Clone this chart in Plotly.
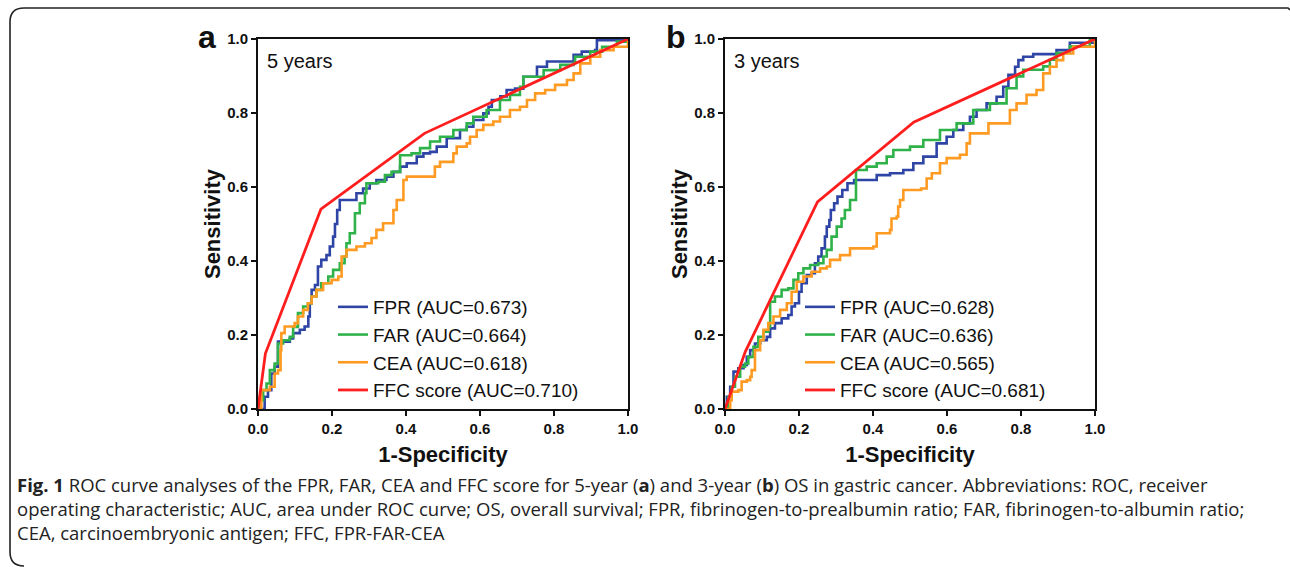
import plotly.graph_objects as go
from plotly.subplots import make_subplots

W, H = 1290, 567

# ---------------- data ----------------
PANEL_LABELS = ["a", "b"]
PANEL_TITLES = ["5 years", "3 years"]
SERIES_NAMES = ["FPR", "FAR", "CEA", "FFC score"]
AUC_A = [0.673, 0.664, 0.618, 0.710]
AUC_B = [0.628, 0.636, 0.565, 0.681]
TICKS = [0.0, 0.2, 0.4, 0.6, 0.8, 1.0]

# Panel a (5 years) -- (1-specificity, sensitivity)
FPR_A = [(0, 0), (0.009, 0), (0.018, 0.033), (0.027, 0.051), (0.036, 0.096), (0.045, 0.114),
         (0.054, 0.182), (0.086, 0.191), (0.095, 0.205), (0.113, 0.214), (0.126, 0.223),
         (0.136, 0.25), (0.14, 0.286), (0.145, 0.322), (0.154, 0.335), (0.162, 0.385),
         (0.171, 0.403), (0.185, 0.416), (0.194, 0.439), (0.203, 0.466), (0.208, 0.5),
         (0.214, 0.538), (0.221, 0.565), (0.257, 0.565), (0.266, 0.583), (0.284, 0.596),
         (0.302, 0.61), (0.32, 0.619), (0.347, 0.628), (0.366, 0.641), (0.384, 0.655),
         (0.402, 0.664), (0.429, 0.682), (0.447, 0.691), (0.465, 0.695), (0.483, 0.709),
         (0.51, 0.732), (0.546, 0.754), (0.564, 0.763), (0.582, 0.781), (0.609, 0.799),
         (0.623, 0.817), (0.632, 0.835), (0.655, 0.845), (0.672, 0.862), (0.695, 0.866),
         (0.717, 0.898), (0.754, 0.925), (0.781, 0.939), (0.853, 0.957), (0.875, 0.966),
         (0.911, 0.97), (0.916, 0.997), (0.988, 0.997), (1.0, 1.0)]
FAR_A = [(0, 0), (0.005, 0.024), (0.014, 0.051), (0.023, 0.069), (0.032, 0.105), (0.045, 0.123),
         (0.054, 0.177), (0.068, 0.186), (0.086, 0.195), (0.095, 0.222), (0.108, 0.259),
         (0.122, 0.277), (0.135, 0.286), (0.145, 0.304), (0.158, 0.322), (0.171, 0.34),
         (0.19, 0.358), (0.203, 0.376), (0.221, 0.394), (0.234, 0.412), (0.239, 0.448),
         (0.248, 0.475), (0.262, 0.529), (0.275, 0.556), (0.289, 0.583), (0.293, 0.61),
         (0.325, 0.614), (0.343, 0.632), (0.361, 0.641), (0.384, 0.686), (0.415, 0.691),
         (0.438, 0.705), (0.465, 0.723), (0.492, 0.736), (0.528, 0.754), (0.564, 0.772),
         (0.582, 0.79), (0.618, 0.808), (0.654, 0.835), (0.681, 0.849), (0.708, 0.871),
         (0.717, 0.898), (0.772, 0.916), (0.817, 0.93), (0.853, 0.935), (0.857, 0.952),
         (0.898, 0.966), (0.93, 0.979), (0.97, 0.993), (1.0, 1.0)]
CEA_A = [(0, 0), (0.009, 0.051), (0.032, 0.06), (0.045, 0.096), (0.054, 0.105), (0.061, 0.159),
         (0.063, 0.205), (0.072, 0.223), (0.099, 0.232), (0.108, 0.25), (0.122, 0.268),
         (0.135, 0.286), (0.145, 0.304), (0.158, 0.322), (0.176, 0.34), (0.199, 0.349),
         (0.217, 0.358), (0.226, 0.412), (0.239, 0.43), (0.266, 0.439), (0.289, 0.448),
         (0.307, 0.462), (0.32, 0.484), (0.338, 0.502), (0.366, 0.538), (0.375, 0.565),
         (0.393, 0.619), (0.402, 0.628), (0.465, 0.628), (0.478, 0.655), (0.492, 0.668),
         (0.528, 0.691), (0.537, 0.709), (0.564, 0.718), (0.573, 0.736), (0.591, 0.754),
         (0.609, 0.768), (0.636, 0.777), (0.654, 0.79), (0.681, 0.808), (0.708, 0.817),
         (0.727, 0.835), (0.749, 0.853), (0.776, 0.862), (0.803, 0.876), (0.835, 0.889),
         (0.853, 0.907), (0.871, 0.934), (0.898, 0.952), (0.925, 0.97), (0.961, 0.979),
         (1.0, 1.0)]
FFC_A = [(0, 0), (0.02, 0.15), (0.17, 0.54), (0.45, 0.745), (1.0, 1.0)]

# Panel b (3 years)
FPR_B = [(0, 0), (0.005, 0.033), (0.014, 0.06), (0.023, 0.101), (0.036, 0.11), (0.05, 0.119),
         (0.059, 0.141), (0.068, 0.159), (0.081, 0.177), (0.095, 0.186), (0.113, 0.195),
         (0.122, 0.218), (0.135, 0.232), (0.153, 0.245), (0.171, 0.254), (0.18, 0.277),
         (0.189, 0.286), (0.2, 0.317), (0.207, 0.34), (0.221, 0.362), (0.234, 0.367),
         (0.243, 0.394), (0.252, 0.412), (0.261, 0.434), (0.27, 0.466), (0.275, 0.493),
         (0.282, 0.511), (0.286, 0.538), (0.295, 0.556), (0.304, 0.574), (0.317, 0.592),
         (0.331, 0.61), (0.349, 0.619), (0.41, 0.632), (0.446, 0.637), (0.482, 0.646),
         (0.509, 0.664), (0.536, 0.682), (0.572, 0.718), (0.599, 0.736), (0.617, 0.754),
         (0.644, 0.772), (0.662, 0.79), (0.68, 0.808), (0.707, 0.826), (0.734, 0.844),
         (0.752, 0.871), (0.766, 0.903), (0.784, 0.925), (0.793, 0.943), (0.806, 0.952),
         (0.833, 0.959), (0.887, 0.959), (0.896, 0.97), (0.928, 0.97), (0.932, 0.99),
         (0.986, 0.99), (1.0, 1.0)]
FAR_B = [(0, 0), (0.009, 0.033), (0.018, 0.06), (0.027, 0.087), (0.041, 0.114), (0.054, 0.123),
         (0.063, 0.141), (0.077, 0.168), (0.09, 0.195), (0.104, 0.209), (0.117, 0.222),
         (0.122, 0.29), (0.135, 0.304), (0.153, 0.322), (0.171, 0.326), (0.185, 0.349),
         (0.198, 0.367), (0.212, 0.38), (0.23, 0.389), (0.252, 0.394), (0.266, 0.412),
         (0.275, 0.43), (0.288, 0.466), (0.302, 0.493), (0.315, 0.515), (0.324, 0.538),
         (0.338, 0.565), (0.354, 0.583), (0.354, 0.646), (0.383, 0.655), (0.41, 0.664),
         (0.437, 0.682), (0.455, 0.7), (0.5, 0.709), (0.536, 0.727), (0.581, 0.754),
         (0.626, 0.772), (0.671, 0.808), (0.716, 0.826), (0.761, 0.867), (0.788, 0.899),
         (0.806, 0.917), (0.86, 0.926), (0.878, 0.944), (0.896, 0.962), (0.932, 0.98),
         (0.986, 0.998), (1.0, 1.0)]
CEA_B = [(0, 0), (0.014, 0.024), (0.018, 0.047), (0.036, 0.051), (0.045, 0.074), (0.059, 0.078),
         (0.068, 0.087), (0.072, 0.105), (0.081, 0.159), (0.095, 0.186), (0.104, 0.214),
         (0.117, 0.232), (0.131, 0.25), (0.149, 0.268), (0.167, 0.286), (0.18, 0.317),
         (0.194, 0.344), (0.212, 0.358), (0.234, 0.371), (0.257, 0.38), (0.275, 0.385),
         (0.284, 0.403), (0.311, 0.416), (0.338, 0.434), (0.401, 0.439), (0.41, 0.475),
         (0.446, 0.484), (0.45, 0.515), (0.464, 0.52), (0.468, 0.547), (0.473, 0.565),
         (0.482, 0.592), (0.53, 0.596), (0.545, 0.623), (0.559, 0.637), (0.581, 0.664),
         (0.599, 0.678), (0.635, 0.687), (0.653, 0.718), (0.662, 0.745), (0.689, 0.745),
         (0.712, 0.772), (0.761, 0.772), (0.77, 0.808), (0.788, 0.826), (0.815, 0.849),
         (0.842, 0.862), (0.86, 0.907), (0.878, 0.925), (0.896, 0.943), (0.914, 0.961),
         (0.941, 0.979), (1.0, 1.0)]
FFC_B = [(0, 0), (0.055, 0.155), (0.25, 0.56), (0.51, 0.775), (1.0, 1.0)]

CAPTION = [
    "<b>Fig. 1</b> ROC curve analyses of the FPR, FAR, CEA and FFC score for 5-year (<b>a</b>) and 3-year (<b>b</b>) OS in gastric cancer. Abbreviations: ROC, receiver",
    "operating characteristic; AUC, area under ROC curve; OS, overall survival; FPR, fibrinogen-to-prealbumin ratio; FAR, fibrinogen-to-albumin ratio;",
    "CEA, carcinoembryonic antigen; FFC, FPR-FAR-CEA",
]

COLORS = ["#2f45a6", "#2fb24a", "#ff9a22", "#ff1e1e"]

# ---------------- figure ----------------
def px_x(p):
    return p / W

def px_y(p):
    return 1 - p / H

fig = make_subplots(rows=1, cols=2)
panels = [
    ([FPR_A, FAR_A, CEA_A, FFC_A], AUC_A, "legend"),
    ([FPR_B, FAR_B, CEA_B, FFC_B], AUC_B, "legend2"),
]
for c, (series, aucs, leg) in enumerate(panels, start=1):
    for i, pts in enumerate(series):
        xs = [p[0] for p in pts]
        ys = [p[1] for p in pts]
        step = i < 3
        fig.add_trace(go.Scatter(
            x=xs, y=ys, mode="lines",
            line=dict(color=COLORS[i], width=2.6 if step else 2.8,
                      shape="hv" if step else "linear"),
            name=f"{SERIES_NAMES[i]} (AUC={aucs[i]:.3f})",
            legend=leg, showlegend=True,
        ), row=1, col=c)

dom_x = [[px_x(258), px_x(628)], [px_x(725), px_x(1095)]]
dom_y = [px_y(409), px_y(39)]
tickfont = dict(family="Liberation Sans, Arial", size=15, color="#111", weight="bold")
titlefont = dict(family="Liberation Sans, Arial", size=22, color="#111", weight="bold")
for k, ax in enumerate(["", "2"]):
    fig.layout["xaxis" + ax].update(
        domain=dom_x[k], range=[0, 1], tickvals=TICKS, tickformat=".1f",
        ticks="outside", ticklen=5, tickwidth=1.5, tickcolor="#111",
        showline=True, linecolor="#111", linewidth=2, mirror=True,
        showgrid=False, zeroline=False, tickfont=tickfont, automargin=False,
        title=dict(text="1-Specificity", font=titlefont, standoff=11),
    )
    fig.layout["yaxis" + ax].update(
        domain=dom_y, range=[0, 1], tickvals=TICKS, tickformat=".1f",
        ticks="outside", ticklen=5, tickwidth=1.5, tickcolor="#111",
        showline=True, linecolor="#111", linewidth=2, mirror=True,
        showgrid=False, zeroline=False, tickfont=tickfont, automargin=False,
        title=dict(text="Sensitivity", font=titlefont, standoff=0),
    )

legfont = dict(family="Liberation Sans, Arial", size=19, color="#111")
fig.update_layout(
    width=W, height=H, autosize=False,
    margin=dict(l=0, r=0, t=0, b=0, pad=0, autoexpand=False),
    paper_bgcolor="white", plot_bgcolor="white",
    font=dict(family="Liberation Sans, Arial", color="#111"),
    legend=dict(x=px_x(333), y=px_y(288), xanchor="left", yanchor="top",
                bgcolor="rgba(0,0,0,0)", font=legfont, tracegroupgap=0,
                itemwidth=30),
    legend2=dict(x=px_x(800), y=px_y(288), xanchor="left", yanchor="top",
                 bgcolor="rgba(0,0,0,0)", font=legfont, tracegroupgap=0,
                 itemwidth=30),
)

annots = []
letter_x = [207, 676]
inner_x = [265, 732]
for k in range(2):
    annots.append(dict(text=f"<b>{PANEL_LABELS[k]}</b>", x=px_x(letter_x[k]), y=px_y(37),
                       xref="paper", yref="paper", xanchor="center", yanchor="middle",
                       showarrow=False, font=dict(family="Liberation Sans, Arial", size=32, color="#111")))
    annots.append(dict(text=PANEL_TITLES[k], x=px_x(inner_x[k]), y=px_y(61),
                       xref="paper", yref="paper", xanchor="left", yanchor="middle",
                       showarrow=False, font=dict(family="Liberation Sans, Arial", size=20, color="#111")))
cap_y = [484, 508, 532]
for line, yy in zip(CAPTION, cap_y):
    annots.append(dict(text=line, x=px_x(15), y=px_y(yy), xref="paper", yref="paper",
                       xanchor="left", yanchor="middle", align="left", showarrow=False,
                       font=dict(family="Open Sans", size=18.5, color="#222")))
fig.update_layout(annotations=annots)

# rounded outer frame (open at right/bottom as in the source crop)
path = (f"M {px_x(24)},{px_y(566)} Q {px_x(10)},{px_y(566)} {px_x(10)},{px_y(552)} "
        f"L {px_x(10)},{px_y(22)} Q {px_x(10)},{px_y(8)} {px_x(24)},{px_y(8)} "
        f"L {px_x(1288)},{px_y(8)} L {px_x(1290)},{px_y(10)}")
fig.add_shape(type="path", path=path, xref="paper", yref="paper",
              line=dict(color="#222", width=1.6))

fig.write_html(
    "out.html",
    config={"displayModeBar": False},
    post_script="document.body.style.margin='0';document.body.style.padding='0';document.documentElement.style.overflow='hidden';",
)
